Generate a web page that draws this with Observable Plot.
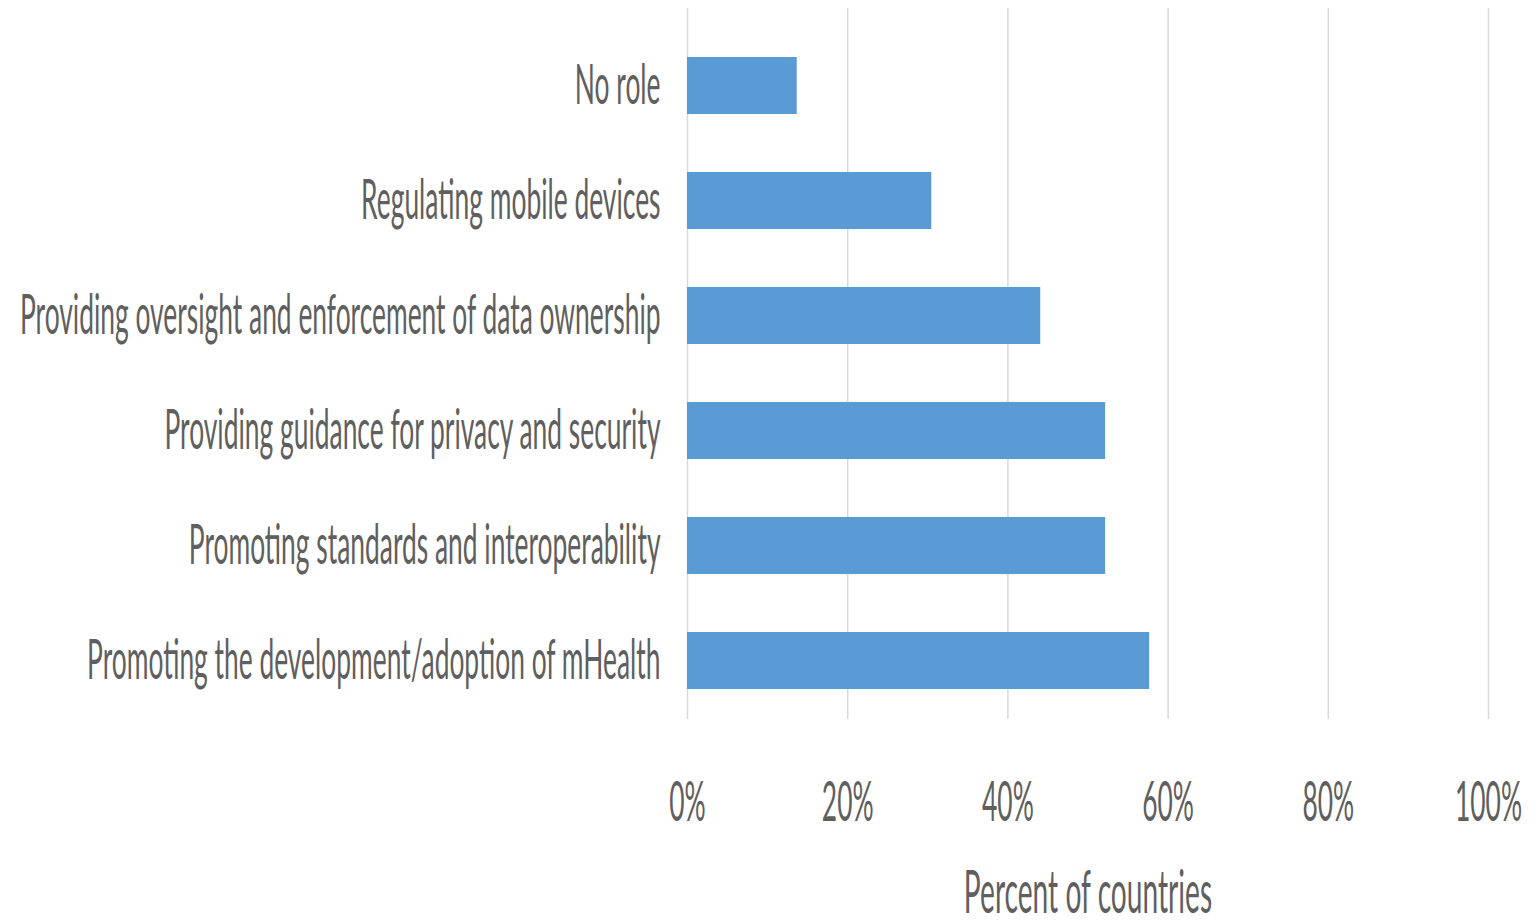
<!DOCTYPE html>
<html><head><meta charset="utf-8">
<script src="https://cdn.jsdelivr.net/npm/d3@7"></script>
<script src="https://cdn.jsdelivr.net/npm/@observablehq/plot@0.6"></script>
<style>body{margin:0;background:#fff}</style>
</head><body><div id="chart"></div>
<script>
const categories = [
  "No role",
  "Regulating mobile devices",
  "Providing oversight and enforcement of data ownership",
  "Providing guidance for privacy and security",
  "Promoting standards and interoperability",
  "Promoting the development/adoption of mHealth"
];
const values = [13.7, 30.5, 44.1, 52.2, 52.2, 57.7];
const xTicks = [0, 20, 40, 60, 80, 100];
const xLabel = "Percent of countries";

const data = categories.map((c, i) => ({category: c, value: values[i]}));
const textColor = "#5f5f5f";

const plot = Plot.plot({
  width: 1534, height: 921,
  marginLeft: 687, marginRight: 46, marginTop: 8, marginBottom: 202,
  x: {domain: [0, 100], axis: null},
  y: {domain: categories, axis: null, paddingInner: 0.507, paddingOuter: 0.333, align: 0.623},
  style: {fontFamily: "Lato", fontSize: "30px", color: textColor, background: "#fff"},
  marks: [
    Plot.ruleX(xTicks, {x: d => d, stroke: "#d9d9d9", strokeWidth: 1.5}),
    Plot.barX(data, {x: "value", y: "category", fill: "#5b9bd5"}),
    Plot.text(categories, {y: d => d, frameAnchor: "left", textAnchor: "end", dx: -27, fill: textColor, fontSize: 30}),
    Plot.text(xTicks, {x: d => d, frameAnchor: "bottom", dy: 84, lineAnchor: "middle", text: d => d + "%", fill: textColor, fontSize: 30}),
    Plot.text([xLabel], {frameAnchor: "bottom", dy: 174, lineAnchor: "middle", fill: textColor, fontSize: 32})
  ]
});
d3.select(plot).selectAll("text").each(function() {
  const t = this.getAttribute("transform") || "";
  this.setAttribute("transform", t + " scale(0.88,1.86)");
});
document.getElementById("chart").appendChild(plot);
</script>
</body></html>
